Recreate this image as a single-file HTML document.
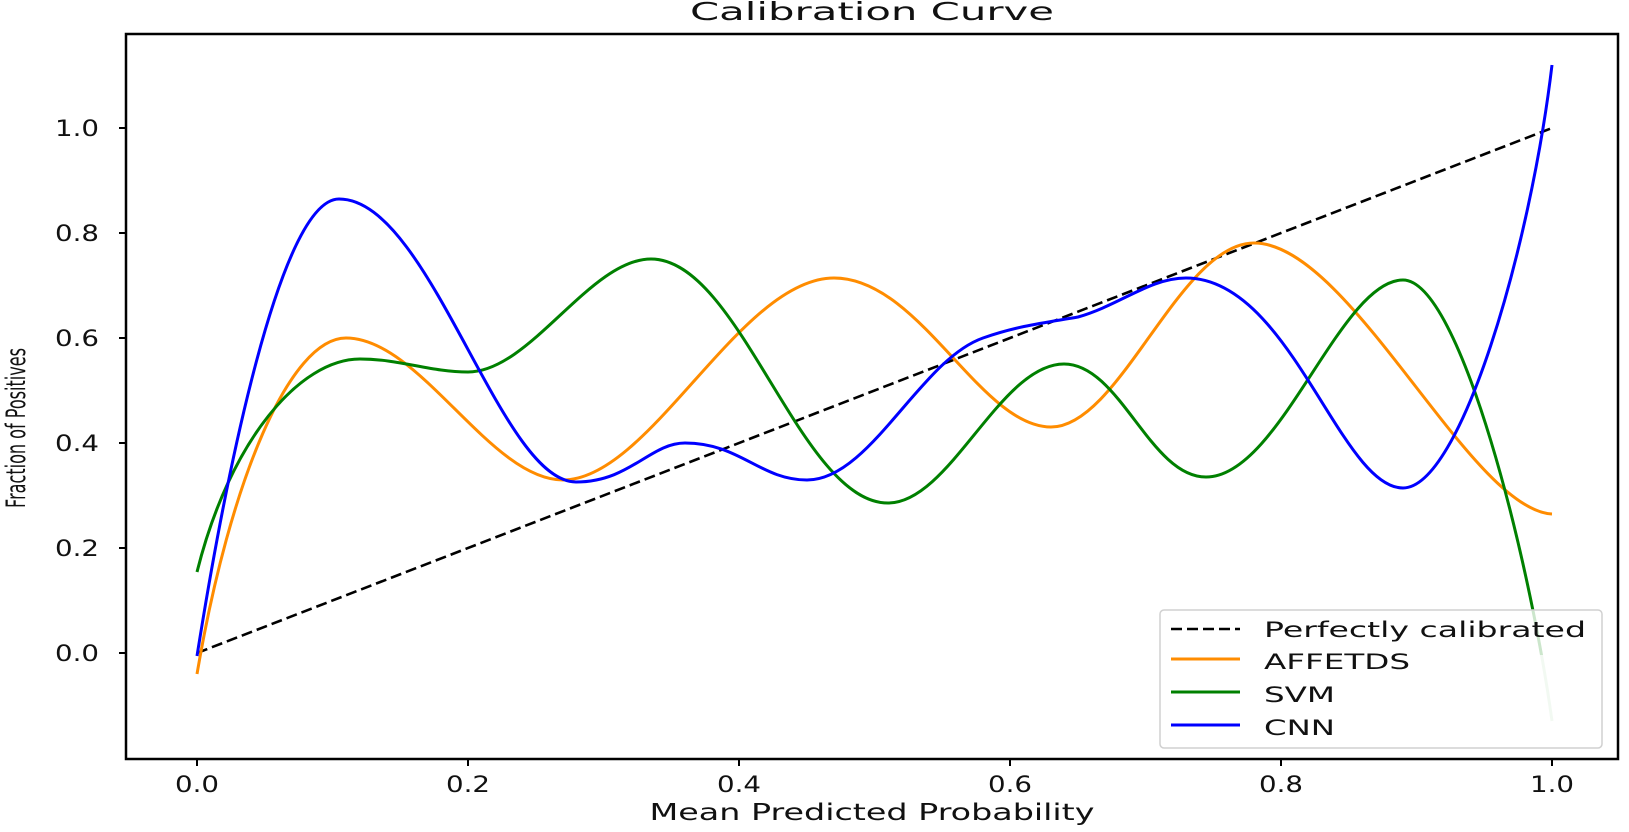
<!DOCTYPE html>
<html><head><meta charset="utf-8"><style>
html,body{margin:0;padding:0;background:#fff;}
svg text{font-family:"DejaVu Sans","Liberation Sans",sans-serif;fill:#111;}
</style></head><body>
<svg width="1629" height="827" viewBox="0 0 1629 827" xmlns="http://www.w3.org/2000/svg">
<defs>
<clipPath id="top"><rect x="0" y="0" width="1629" height="655"/></clipPath>
<clipPath id="bot"><rect x="0" y="655" width="1629" height="200"/></clipPath>
</defs>
<text x="872" y="20" font-size="25" text-anchor="middle" textLength="364" lengthAdjust="spacingAndGlyphs">Calibration Curve</text>
<line x1="197" y1="653" x2="1552" y2="128" stroke="#000" stroke-width="2.6" stroke-dasharray="11,5"/>
<path d="M197,674 C230,480 290,338 346,338 C420,338 490,480 563,480 C650,480 740,278 834,278 C920,278 980,427 1051,427 C1120,427 1180,243 1254,243 C1350,243 1470,510 1552,514" fill="none" stroke="#ff8c00" stroke-width="3"/>
<g fill="none" stroke="#008000" stroke-width="3">
<path clip-path="url(#top)" d="M197,572 C230,440 300,359 360,359 C400,359 430,372 468,372 C530,372 590,259 651,259 C740,259 800,503 888,503 C950,503 1000,364 1064,364 C1120,364 1150,477 1206,477 C1280,477 1340,280 1403,280 C1460,280 1530,560 1552,721"/>
<path clip-path="url(#bot)" opacity="0.25" d="M1403,280 C1460,280 1530,560 1552,721"/>
</g>
<path d="M197,656 C225,480 280,199 339,199 C430,199 500,482 576,482 C630,482 650,443 685,443 C740,443 760,480 807,480 C870,480 920,360 983,338 C1020,325 1050,322 1078,317 C1120,305 1150,278 1186,278 C1290,278 1340,488 1403,488 C1460,488 1530,250 1552,65" fill="none" stroke="#0000ff" stroke-width="3"/>
<rect x="126" y="34" width="1492" height="725" fill="none" stroke="#000" stroke-width="2.5"/>
<g stroke="#000" stroke-width="2">
<line x1="119" y1="653" x2="126" y2="653"/><line x1="119" y1="548" x2="126" y2="548"/>
<line x1="119" y1="443" x2="126" y2="443"/><line x1="119" y1="338" x2="126" y2="338"/>
<line x1="119" y1="233" x2="126" y2="233"/><line x1="119" y1="128" x2="126" y2="128"/>
<line x1="197" y1="759" x2="197" y2="766"/><line x1="468" y1="759" x2="468" y2="766"/>
<line x1="739" y1="759" x2="739" y2="766"/><line x1="1010" y1="759" x2="1010" y2="766"/>
<line x1="1281" y1="759" x2="1281" y2="766"/><line x1="1552" y1="759" x2="1552" y2="766"/>
</g>
<g font-size="22" text-anchor="end">
<text x="99" y="661" textLength="44" lengthAdjust="spacingAndGlyphs">0.0</text>
<text x="99" y="556" textLength="44" lengthAdjust="spacingAndGlyphs">0.2</text>
<text x="99" y="451" textLength="44" lengthAdjust="spacingAndGlyphs">0.4</text>
<text x="99" y="346" textLength="44" lengthAdjust="spacingAndGlyphs">0.6</text>
<text x="99" y="241" textLength="44" lengthAdjust="spacingAndGlyphs">0.8</text>
<text x="99" y="136" textLength="44" lengthAdjust="spacingAndGlyphs">1.0</text>
</g>
<g font-size="22" text-anchor="middle">
<text x="197" y="792" textLength="44" lengthAdjust="spacingAndGlyphs">0.0</text>
<text x="468" y="792" textLength="44" lengthAdjust="spacingAndGlyphs">0.2</text>
<text x="739" y="792" textLength="44" lengthAdjust="spacingAndGlyphs">0.4</text>
<text x="1010" y="792" textLength="44" lengthAdjust="spacingAndGlyphs">0.6</text>
<text x="1281" y="792" textLength="44" lengthAdjust="spacingAndGlyphs">0.8</text>
<text x="1552" y="792" textLength="44" lengthAdjust="spacingAndGlyphs">1.0</text>
</g>
<text x="872" y="820" font-size="23" text-anchor="middle" textLength="445" lengthAdjust="spacingAndGlyphs">Mean Predicted Probability</text>
<text transform="translate(25,428) rotate(-90)" font-size="27" text-anchor="middle" textLength="160" lengthAdjust="spacingAndGlyphs">Fraction of Positives</text>
<rect x="1160" y="610" width="442" height="138" rx="4" fill="#fff" fill-opacity="0.8" stroke="#d0d0d0" stroke-width="1.5"/>
<line x1="1171" y1="629" x2="1240" y2="629" stroke="#000" stroke-width="2.6" stroke-dasharray="11,5"/>
<line x1="1171" y1="659" x2="1240" y2="659" stroke="#ff8c00" stroke-width="3"/>
<line x1="1171" y1="692" x2="1240" y2="692" stroke="#008000" stroke-width="3"/>
<line x1="1171" y1="725" x2="1240" y2="725" stroke="#0000ff" stroke-width="3"/>
<g font-size="21">
<text x="1264" y="637" textLength="322" lengthAdjust="spacingAndGlyphs">Perfectly calibrated</text>
<text x="1264" y="669" textLength="146" lengthAdjust="spacingAndGlyphs">AFFETDS</text>
<text x="1264" y="702" textLength="71" lengthAdjust="spacingAndGlyphs">SVM</text>
<text x="1264" y="735" textLength="71" lengthAdjust="spacingAndGlyphs">CNN</text>
</g>
</svg>
</body></html>
